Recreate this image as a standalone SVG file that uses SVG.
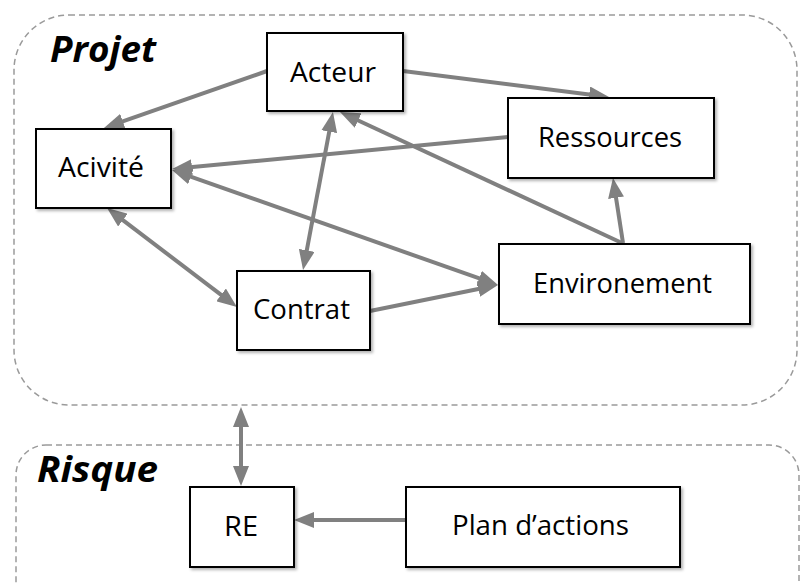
<svg xmlns="http://www.w3.org/2000/svg" width="800" height="583" viewBox="0 0 800 583">
<style>
.group{fill:none;stroke:#9a9a9a;stroke-width:1.5;stroke-dasharray:6 4}
.box{fill:#ffffff;stroke:#000000;stroke-width:2;filter:url(#sh)}
.lbl{font-family:"Open Sans","Liberation Sans",sans-serif;font-size:28px;fill:#000000}
.title{font-family:"Open Sans","Liberation Sans",sans-serif;font-size:35px;font-weight:bold;font-style:italic;fill:#000000}
.conn line{stroke:#808080;stroke-width:4}
</style>
<defs>
<filter id="sh" x="-10%" y="-10%" width="130%" height="130%">
<feDropShadow dx="2" dy="2" stdDeviation="1.5" flood-color="#000000" flood-opacity="0.3"/>
</filter>
<marker id="ah" markerUnits="userSpaceOnUse" markerWidth="20" markerHeight="16" refX="10" refY="8" orient="auto-start-reverse">
<path d="M0,0 L20,8 L0,16 z" fill="#808080"/>
</marker>
</defs>
<rect width="800" height="583" fill="#ffffff"/>
<g id="projet">
<rect class="group" x="14" y="15" width="783" height="390" rx="55" ry="55"/>
<text class="title" x="50" y="62" textLength="106" lengthAdjust="spacingAndGlyphs">Projet</text>
</g>
<g id="risque">
<rect class="group" x="16" y="445" width="783" height="200" rx="30" ry="30"/>
<text class="title" x="37" y="482" textLength="121" lengthAdjust="spacingAndGlyphs">Risque</text>
</g>
<g class="conn" id="connectors">
<line x1="267" y1="71" x2="113.4" y2="124.7" marker-end="url(#ah)"/>
<line x1="403" y1="71" x2="599.1" y2="95.7" marker-end="url(#ah)"/>
<line x1="508" y1="137" x2="182" y2="168.1" marker-end="url(#ah)"/>
<line x1="622" y1="243" x2="349.1" y2="116.2" marker-end="url(#ah)"/>
<line x1="623" y1="243" x2="614.5" y2="187.9" marker-end="url(#ah)"/>
<line x1="181.4" y1="173.3" x2="488.6" y2="281.7" marker-start="url(#ah)" marker-end="url(#ah)"/>
<line x1="331.1" y1="121.8" x2="304.9" y2="260.2" marker-start="url(#ah)" marker-end="url(#ah)"/>
<line x1="115" y1="214.1" x2="229" y2="300.9" marker-start="url(#ah)" marker-end="url(#ah)"/>
<line x1="370" y1="311" x2="488.2" y2="287" marker-end="url(#ah)"/>
<line x1="241" y1="417" x2="241" y2="476" marker-start="url(#ah)" marker-end="url(#ah)"/>
<line x1="406" y1="520" x2="304" y2="520" marker-end="url(#ah)"/>
</g>
<g id="acteur">
<rect class="box" x="267" y="33" width="136" height="78"/>
<text class="lbl" x="290" y="82" textLength="86" lengthAdjust="spacingAndGlyphs">Acteur</text>
</g>
<g id="activite">
<rect class="box" x="36" y="129" width="135" height="79"/>
<text class="lbl" x="58" y="177" textLength="86" lengthAdjust="spacingAndGlyphs">Acivité</text>
</g>
<g id="ressources">
<rect class="box" x="508" y="98" width="206" height="80"/>
<text class="lbl" x="538" y="147" textLength="144" lengthAdjust="spacingAndGlyphs">Ressources</text>
</g>
<g id="environement">
<rect class="box" x="499" y="244" width="251" height="80"/>
<text class="lbl" x="533" y="293" textLength="179" lengthAdjust="spacingAndGlyphs">Environement</text>
</g>
<g id="contrat">
<rect class="box" x="237" y="271" width="133" height="79"/>
<text class="lbl" x="253" y="319" textLength="97" lengthAdjust="spacingAndGlyphs">Contrat</text>
</g>
<g id="re">
<rect class="box" x="190" y="487" width="104" height="80"/>
<text class="lbl" x="224" y="536" textLength="34" lengthAdjust="spacingAndGlyphs">RE</text>
</g>
<g id="plan">
<rect class="box" x="406" y="487" width="274" height="80"/>
<text class="lbl" x="452" y="535" textLength="177" lengthAdjust="spacingAndGlyphs">Plan d’actions</text>
</g>
</svg>
